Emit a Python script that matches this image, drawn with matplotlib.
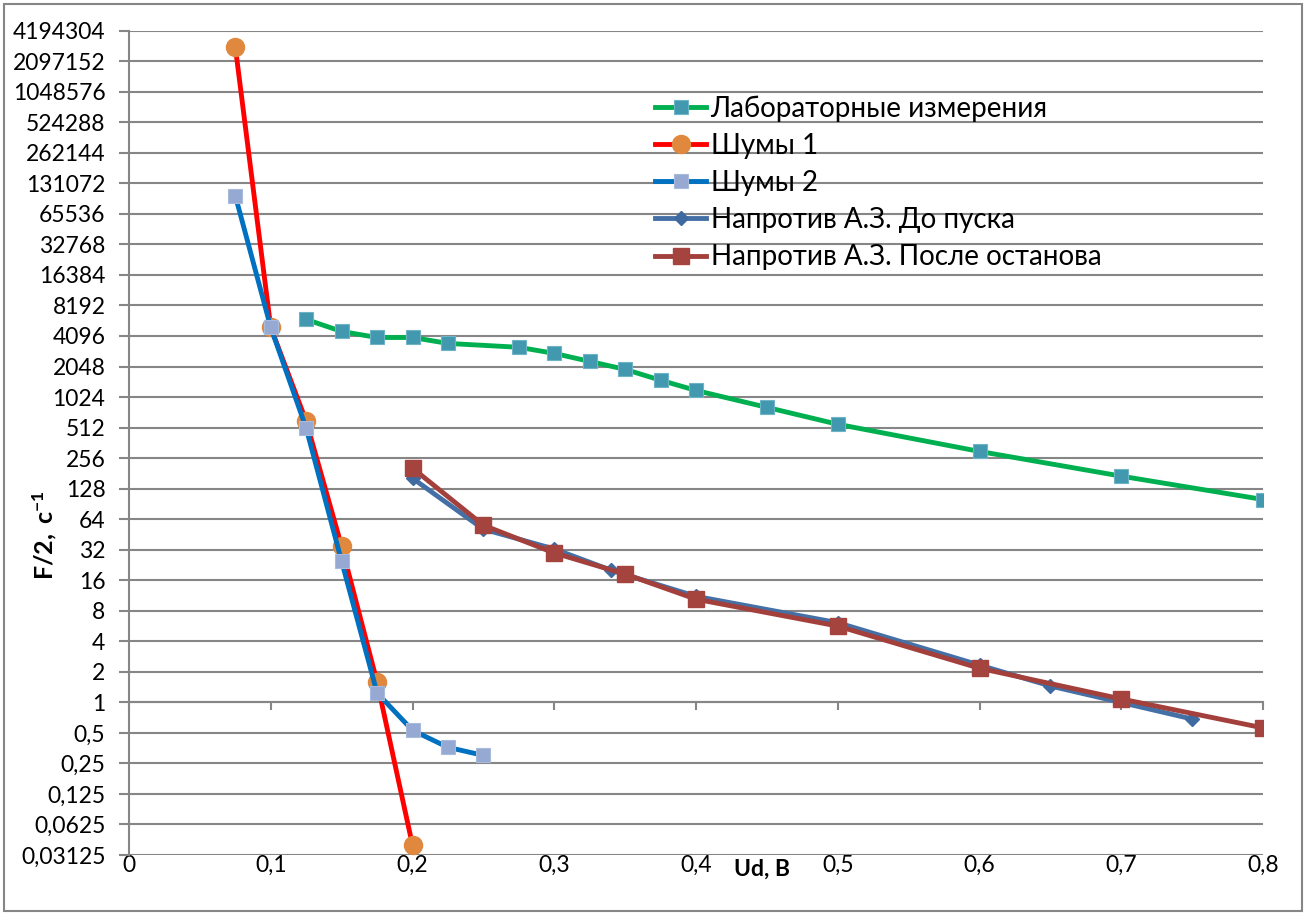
import numpy as np
import matplotlib.pyplot as plt
from matplotlib.ticker import FixedLocator, FuncFormatter

plt.rcParams['font.family'] = ['Lato', 'Noto Sans', 'DejaVu Sans']
plt.rcParams['mathtext.fontset'] = 'custom'
plt.rcParams['mathtext.bf'] = 'Lato:bold'
plt.rcParams['mathtext.rm'] = 'Lato'

# Лабораторные измерения
lab_x = [0.125, 0.15, 0.175, 0.2, 0.225, 0.275, 0.3, 0.325, 0.35, 0.375, 0.4, 0.45, 0.5, 0.6, 0.7, 0.8]
lab_y = [5970, 4540, 3960, 3960, 3460, 3170, 2760, 2300, 1920, 1500, 1190, 810, 552, 298, 170, 100]

# Шумы 1
n1_x = [0.075, 0.1, 0.125, 0.15, 0.175, 0.2]
n1_y = [2.9e6, 4970, 592, 34.6, 1.59, 0.039]

# Шумы 2
n2_x = [0.075, 0.1, 0.125, 0.15, 0.175, 0.2, 0.225, 0.25]
n2_y = [99000, 4970, 505, 24.6, 1.24, 0.53, 0.36, 0.30]

# Напротив А.З. До пуска
before_x = [0.2, 0.25, 0.3, 0.34, 0.4, 0.5, 0.6, 0.65, 0.75]
before_y = [162, 51, 32.5, 20.1, 11.1, 6.1, 2.33, 1.45, 0.685]

# Напротив А.З. После останова
after_x = [0.2, 0.25, 0.3, 0.35, 0.4, 0.5, 0.6, 0.7, 0.8]
after_y = [204, 55.8, 29.7, 18.4, 10.4, 5.65, 2.17, 1.08, 0.56]

y_ticks = [2.0 ** k for k in range(-5, 23)]
x_ticks = [0, 0.1, 0.2, 0.3, 0.4, 0.5, 0.6, 0.7, 0.8]

fig = plt.figure(figsize=(13.07, 9.13), dpi=100)
ax = fig.add_axes([129 / 1307, 1 - 855 / 913, (1263 - 129) / 1307, (855 - 30.7) / 913])

grid_c = '#868686'
lw = 3.5
ax.plot(lab_x, lab_y, color='#00B050', lw=lw, marker='s', ms=10.5,
        mfc='#4198AF', mec='#6FB3C6', mew=0.8, label='Лабораторные измерения', zorder=3)
ax.plot(n1_x, n1_y, color='#FF0000', lw=lw, marker='o', ms=13,
        mfc='#E0883D', mec='#E0883D', label='Шумы 1', zorder=3)
ax.plot(n2_x, n2_y, color='#0070C0', lw=lw, marker='s', ms=10.5,
        mfc='#95A9D2', mec='#A9BBDD', mew=0.8, label='Шумы 2', zorder=4)
ax.plot(before_x, before_y, color='#4470A6', lw=lw, marker='D', ms=7.5,
        mfc='#3F6AA0', mec='#3F6AA0', label='Напротив А.З. До пуска', zorder=3)
ax.plot(after_x, after_y, color='#A3403C', lw=lw, marker='s', ms=11,
        mfc='#A5443F', mec='#A5443F', label='Напротив А.З. После останова', zorder=4)

ax.set_yscale('log', base=2)
ax.set_ylim(2.0 ** -5, 2.0 ** 22)
ax.set_xlim(0, 0.8)


def fmt_y(v, pos):
    s = ('%.5f' % v).rstrip('0').rstrip('.')
    return s.replace('.', ',')


ax.yaxis.set_major_locator(FixedLocator(y_ticks))
ax.yaxis.set_major_formatter(FuncFormatter(fmt_y))
ax.yaxis.set_minor_locator(FixedLocator([]))
ax.set_xticks(x_ticks)
ax.set_xticklabels([('%g' % v).replace('.', ',') for v in x_ticks])

ax.grid(axis='y', color=grid_c, lw=1.5)
ax.set_axisbelow(True)
for s in ['top', 'right']:
    ax.spines[s].set_visible(False)
ax.spines['left'].set_color(grid_c)
ax.spines['left'].set_linewidth(1.5)
ax.spines['bottom'].set_position(('data', 1))
ax.spines['bottom'].set_color(grid_c)
ax.spines['bottom'].set_linewidth(1.5)

ax.tick_params(axis='y', length=7, width=1.5, color=grid_c, labelsize=16.5, pad=10)
ax.tick_params(axis='x', length=6, width=1.5, color=grid_c, labelsize=16.5, pad=104)

ax.set_ylabel(r'$\mathbf{F/2,\:c^{-1}}$', fontsize=18)
ax.yaxis.set_label_coords(-0.062, 0.388)
ax.text(0.558, -0.005, 'Ud, B', transform=ax.transAxes, fontsize=16.5,
        fontweight='bold', ha='center', va='top')

ax.legend(loc='upper left', bbox_to_anchor=(0.454, 0.935), frameon=False,
          fontsize=20, handlelength=1.85, handletextpad=0.15, labelspacing=0.4,
          borderaxespad=0)

fig.patches.append(plt.Rectangle((4 / 1307, 2 / 913), 1298 / 1307, 907 / 913,
                                 transform=fig.transFigure, fill=False,
                                 edgecolor=grid_c, lw=1.5))

fig.savefig('out.png', dpi=100)
